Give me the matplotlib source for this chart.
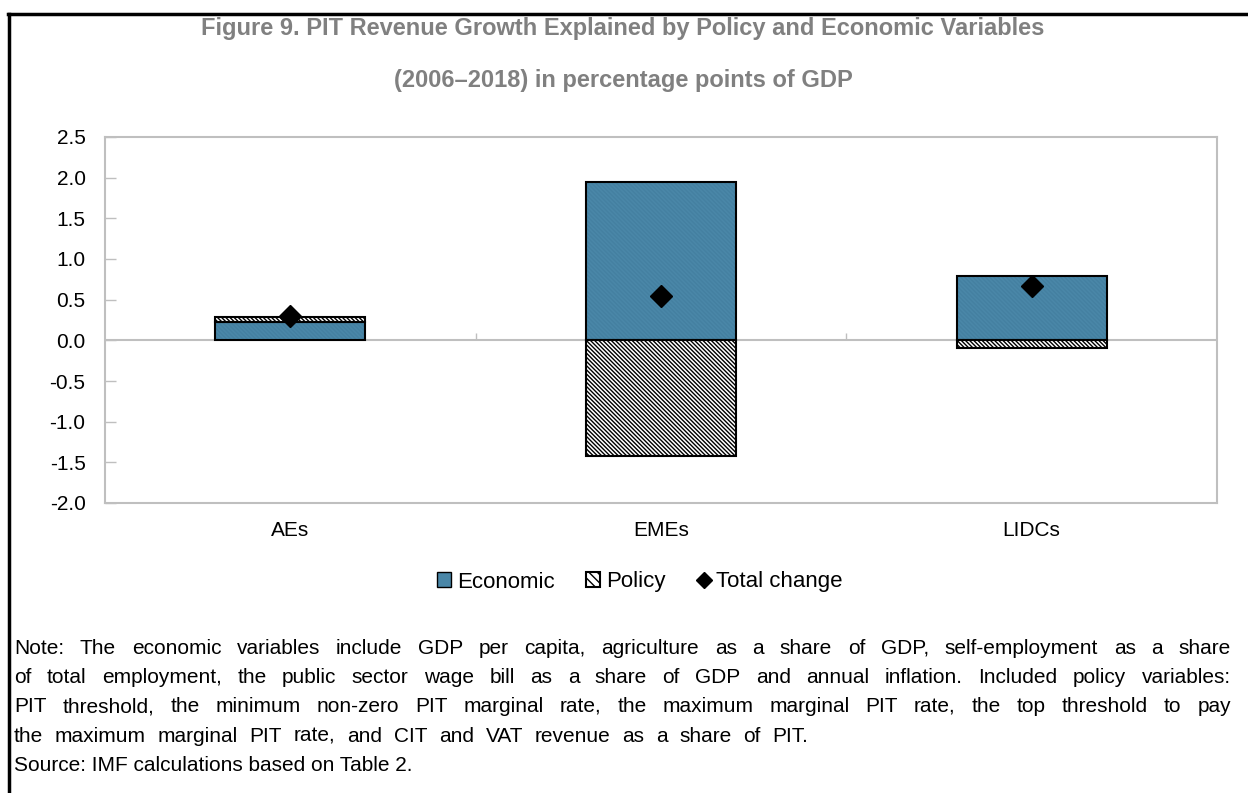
import numpy as np
import matplotlib
matplotlib.use("Agg")
import matplotlib.pyplot as plt
from matplotlib.lines import Line2D
from matplotlib.patches import Patch

plt.rcParams["font.family"] = ["Liberation Sans", "DejaVu Sans"]
plt.rcParams["hatch.linewidth"] = 1.0

# -----------------------------
# Data (percentage points of GDP)
# -----------------------------
groups = ["AEs", "EMEs", "LIDCs"]
economic = [0.23, 1.95, 0.79]
policy = [0.06, -1.42, -0.10]
total_change = [0.30, 0.54, 0.67]

y_ticks = [2.5, 2.0, 1.5, 1.0, 0.5, 0.0, -0.5, -1.0, -1.5, -2.0]

title_lines = [
    "Figure 9. PIT Revenue Growth Explained by Policy and Economic Variables",
    "(2006\u20132018) in percentage points of GDP",
]
note_lines = [
    "Note: The economic variables include GDP per capita, agriculture as a share of GDP, self-employment as a share",
    "of total employment, the public sector wage bill as a share of GDP and annual inflation. Included policy variables:",
    "PIT threshold, the minimum non-zero PIT marginal rate, the maximum marginal PIT rate, the top threshold to pay",
    "the maximum marginal PIT rate, and CIT and VAT revenue as a share of PIT.",
    "Source: IMF calculations based on Table 2.",
]
# right edge (px) each note line is spread to; None = left as is
note_right = [1231, 1231, 1231, 808, None]

ECON_BLUE = "#4A87A8"
GRID_GRAY = "#BFBFBF"
TITLE_GRAY = "#808080"
HATCH = "\\" * 8

W, H = 1248, 793
fig = plt.figure(figsize=(W / 100, H / 100), dpi=100)
ax = fig.add_axes([105 / W, 1 - 503 / H, 1112 / W, 366 / H])

x = np.arange(len(groups))
width = 0.405

# policy stacks on top of positive economic bars, below zero otherwise
econ = np.array(economic)
pol = np.array(policy)
pol_bottom = np.where(pol >= 0, econ, 0.0)

ax.bar(x, econ, width, color=ECON_BLUE, linewidth=0, zorder=3)
ax.bar(x, econ, width, color="none", edgecolor="#4480A1", hatch=HATCH,
       linewidth=0, zorder=3)
ax.bar(x, econ, width, color="none", edgecolor="black", linewidth=1.5,
       zorder=3)
ax.bar(x, pol, width, bottom=pol_bottom, color="white", edgecolor="black",
       hatch=HATCH, linewidth=1.5, zorder=3)
ax.plot(x, total_change, linestyle="none", marker="D", markersize=11,
        color="black", zorder=4)

ax.set_xlim(-0.5, len(groups) - 0.5)
ax.set_ylim(-2.0, 2.5)
ax.set_yticks(y_ticks)
ax.set_yticklabels([f"{v:.1f}" for v in y_ticks])
ax.set_xticks(x)
ax.set_xticklabels(groups)

ax.tick_params(axis="y", direction="in", length=8, width=1, color=GRID_GRAY,
               pad=14, labelsize=15)
ax.tick_params(axis="x", length=0, pad=13, labelsize=15)
for spine in ax.spines.values():
    spine.set_color(GRID_GRAY)
    spine.set_linewidth(1.5)

# zero line with category separators
ax.axhline(0, color=GRID_GRAY, linewidth=1.5, zorder=2)
ax.vlines(x[:-1] + 0.5, 0, 0.09, color=GRID_GRAY, linewidth=1, zorder=2)

handles = [
    Patch(facecolor=ECON_BLUE, edgecolor="black", linewidth=1),
    Patch(facecolor="white", edgecolor="black", hatch="\\\\\\\\", linewidth=1.5),
    Line2D([], [], linestyle="none", marker="D", markersize=8, color="black"),
]
fig.legend(handles, ["Economic", "Policy", "Total change"],
           loc="center", bbox_to_anchor=(640 / W, 1 - 582 / H), ncol=3,
           frameon=False, fontsize=16, handlelength=0.65, handleheight=0.65,
           handletextpad=0.25, columnspacing=1.4)

# title
fig.text(623 / W, 1 - 29 / H, title_lines[0], ha="center", va="center",
         fontsize=17, fontweight="bold", color=TITLE_GRAY)
fig.text(623 / W, 1 - 80 / H, title_lines[1], ha="center", va="center",
         fontsize=17, fontweight="bold", color=TITLE_GRAY)

# notes, justified word by word
renderer = fig.canvas.get_renderer()
left_px = 14
note_size = 15
for i, line in enumerate(note_lines):
    y = 1 - (654 + i * 29.25) / H
    if note_right[i] is None:
        fig.text(left_px / W, y, line, ha="left", va="baseline",
                 fontsize=note_size)
        continue
    words = line.split()
    texts = [fig.text(0, y, w, ha="left", va="baseline", fontsize=note_size)
             for w in words]
    widths = [t.get_window_extent(renderer).width for t in texts]
    gap = (note_right[i] - left_px - sum(widths)) / (len(words) - 1)
    pos = left_px
    for t, w in zip(texts, widths):
        t.set_x(pos / W)
        pos += w + gap

# outer frame: left and top edges
fig.add_artist(Line2D([9 / W, 9 / W], [0, 1 - 14 / H],
                      color="black", linewidth=2.5))
fig.add_artist(Line2D([8 / W, 1], [1 - 14 / H, 1 - 14 / H],
                      color="black", linewidth=2.5))

fig.savefig("out.png", dpi=100)
